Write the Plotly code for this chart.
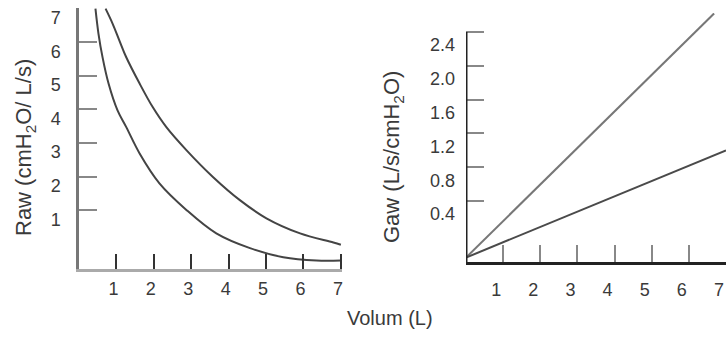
import plotly.graph_objects as go

# ---- data ----
raw_low_x = [0.44, 0.52, 0.63, 0.79, 1.03, 1.26, 1.62, 2.15, 2.87, 3.67, 4.57, 5.46, 6.35, 7.0]
raw_low_y = [7.0, 6.26, 5.55, 4.77, 3.97, 3.48, 2.69, 1.80, 1.01, 0.31, -0.13, -0.40, -0.50, -0.50]
raw_high_x = [0.71, 0.90, 1.08, 1.26, 1.62, 1.97, 2.33, 2.87, 3.58, 4.30, 5.01, 5.91, 6.80, 7.0]
raw_high_y = [7.0, 6.55, 6.05, 5.56, 4.77, 4.07, 3.48, 2.79, 1.99, 1.30, 0.76, 0.31, 0.04, -0.03]

gaw_high_x = [0.0, 6.68]
gaw_high_y = [-0.27, 2.62]
gaw_low_x = [0.0, 7.0]
gaw_low_y = [-0.27, 1.0]

vol_ticks = [1, 2, 3, 4, 5, 6, 7]
raw_ticks = [1, 2, 3, 4, 5, 6, 7]
gaw_ticks = [0.4, 0.8, 1.2, 1.6, 2.0, 2.4]
gaw_ticktext = ["0.4", "0.8", "1.2", "1.6", "2.0", "2.4"]

W, H = 726, 338
FONT = "Liberation Sans, Arial, sans-serif"
TXT = "#3a3a3a"

fig = go.Figure()
fig.add_trace(go.Scatter(x=raw_low_x, y=raw_low_y, mode="lines", line=dict(color="#444", width=2, shape="spline"),
                         xaxis="x", yaxis="y", hoverinfo="skip"))
fig.add_trace(go.Scatter(x=raw_high_x, y=raw_high_y, mode="lines", line=dict(color="#444", width=2, shape="spline"),
                         xaxis="x", yaxis="y", hoverinfo="skip"))
fig.add_trace(go.Scatter(x=gaw_high_x, y=gaw_high_y, mode="lines", line=dict(color="#777", width=2),
                         xaxis="x2", yaxis="y2", hoverinfo="skip"))
fig.add_trace(go.Scatter(x=gaw_low_x, y=gaw_low_y, mode="lines", line=dict(color="#4a4a4a", width=2),
                         xaxis="x2", yaxis="y2", hoverinfo="skip"))

tickfont = dict(family=FONT, size=18, color=TXT)

fig.update_layout(
    width=W, height=H,
    margin=dict(l=0, r=0, t=0, b=0),
    paper_bgcolor="white", plot_bgcolor="white",
    showlegend=False,
    xaxis=dict(domain=[79 / W, 342 / W], range=[0, 7.03], anchor="y",
               tickvals=vol_ticks, ticks="inside", ticklen=15, tickwidth=2, tickcolor="#333",
               showline=True, linecolor="#aaa", linewidth=3, showgrid=False, zeroline=False,
               tickfont=tickfont, ticklabelshift=-3, ticklabelstandoff=1),
    yaxis=dict(domain=[1 - 269 / H, 1 - 8 / H], range=[-0.75, 7.02], anchor="x",
               tickvals=raw_ticks, ticks="inside", ticklen=18, tickwidth=2, tickcolor="#888",
               showline=True, linecolor="#777", linewidth=2.5, showgrid=False, zeroline=False,
               tickfont=tickfont, ticklabelshift=9, ticklabelstandoff=12),
    xaxis2=dict(domain=[466 / W, 1.0], range=[0, 7.0], anchor="y2",
                tickvals=vol_ticks, ticks="inside", ticklen=17, tickwidth=2, tickcolor="#888",
                showline=True, linecolor="#222", linewidth=3, showgrid=False, zeroline=False,
                tickfont=tickfont, ticklabelshift=-7, ticklabelstandoff=9,
                ticklabeloverflow="allow"),
    yaxis2=dict(domain=[1 - 262 / H, 1 - 13 / H], range=[-0.322, 2.625], anchor="x2",
                tickvals=gaw_ticks, ticktext=gaw_ticktext, ticks="inside", ticklen=18, tickwidth=2,
                tickcolor="#888", showline=False, showgrid=False, zeroline=False,
                tickfont=tickfont, ticklabelshift=13, ticklabelstandoff=10),
    shapes=[dict(type="line", xref="x2", yref="y2", x0=0, x1=0, y0=-0.322, y1=gaw_ticks[-1],
                 line=dict(color="#222", width=3))],
    annotations=[
        dict(text="Raw (cmH<sub>2</sub>O/ L/s)", x=25 / W, y=1 - 148 / H, xref="paper", yref="paper",
             xanchor="center", yanchor="middle",
             textangle=-90, showarrow=False, font=dict(family=FONT, size=22, color=TXT)),
        dict(text="Gaw (L/s/cmH<sub>2</sub>O)", x=393 / W, y=1 - 157 / H, xref="paper", yref="paper",
             xanchor="center", yanchor="middle",
             textangle=-90, showarrow=False, font=dict(family=FONT, size=22, color=TXT)),
        dict(text="Volum (L)", x=390 / W, y=1 - 318 / H, xref="paper", yref="paper",
             xanchor="center", yanchor="middle",
             showarrow=False, font=dict(family=FONT, size=20, color=TXT)),
    ],
)

fig.write_html("out.html")
